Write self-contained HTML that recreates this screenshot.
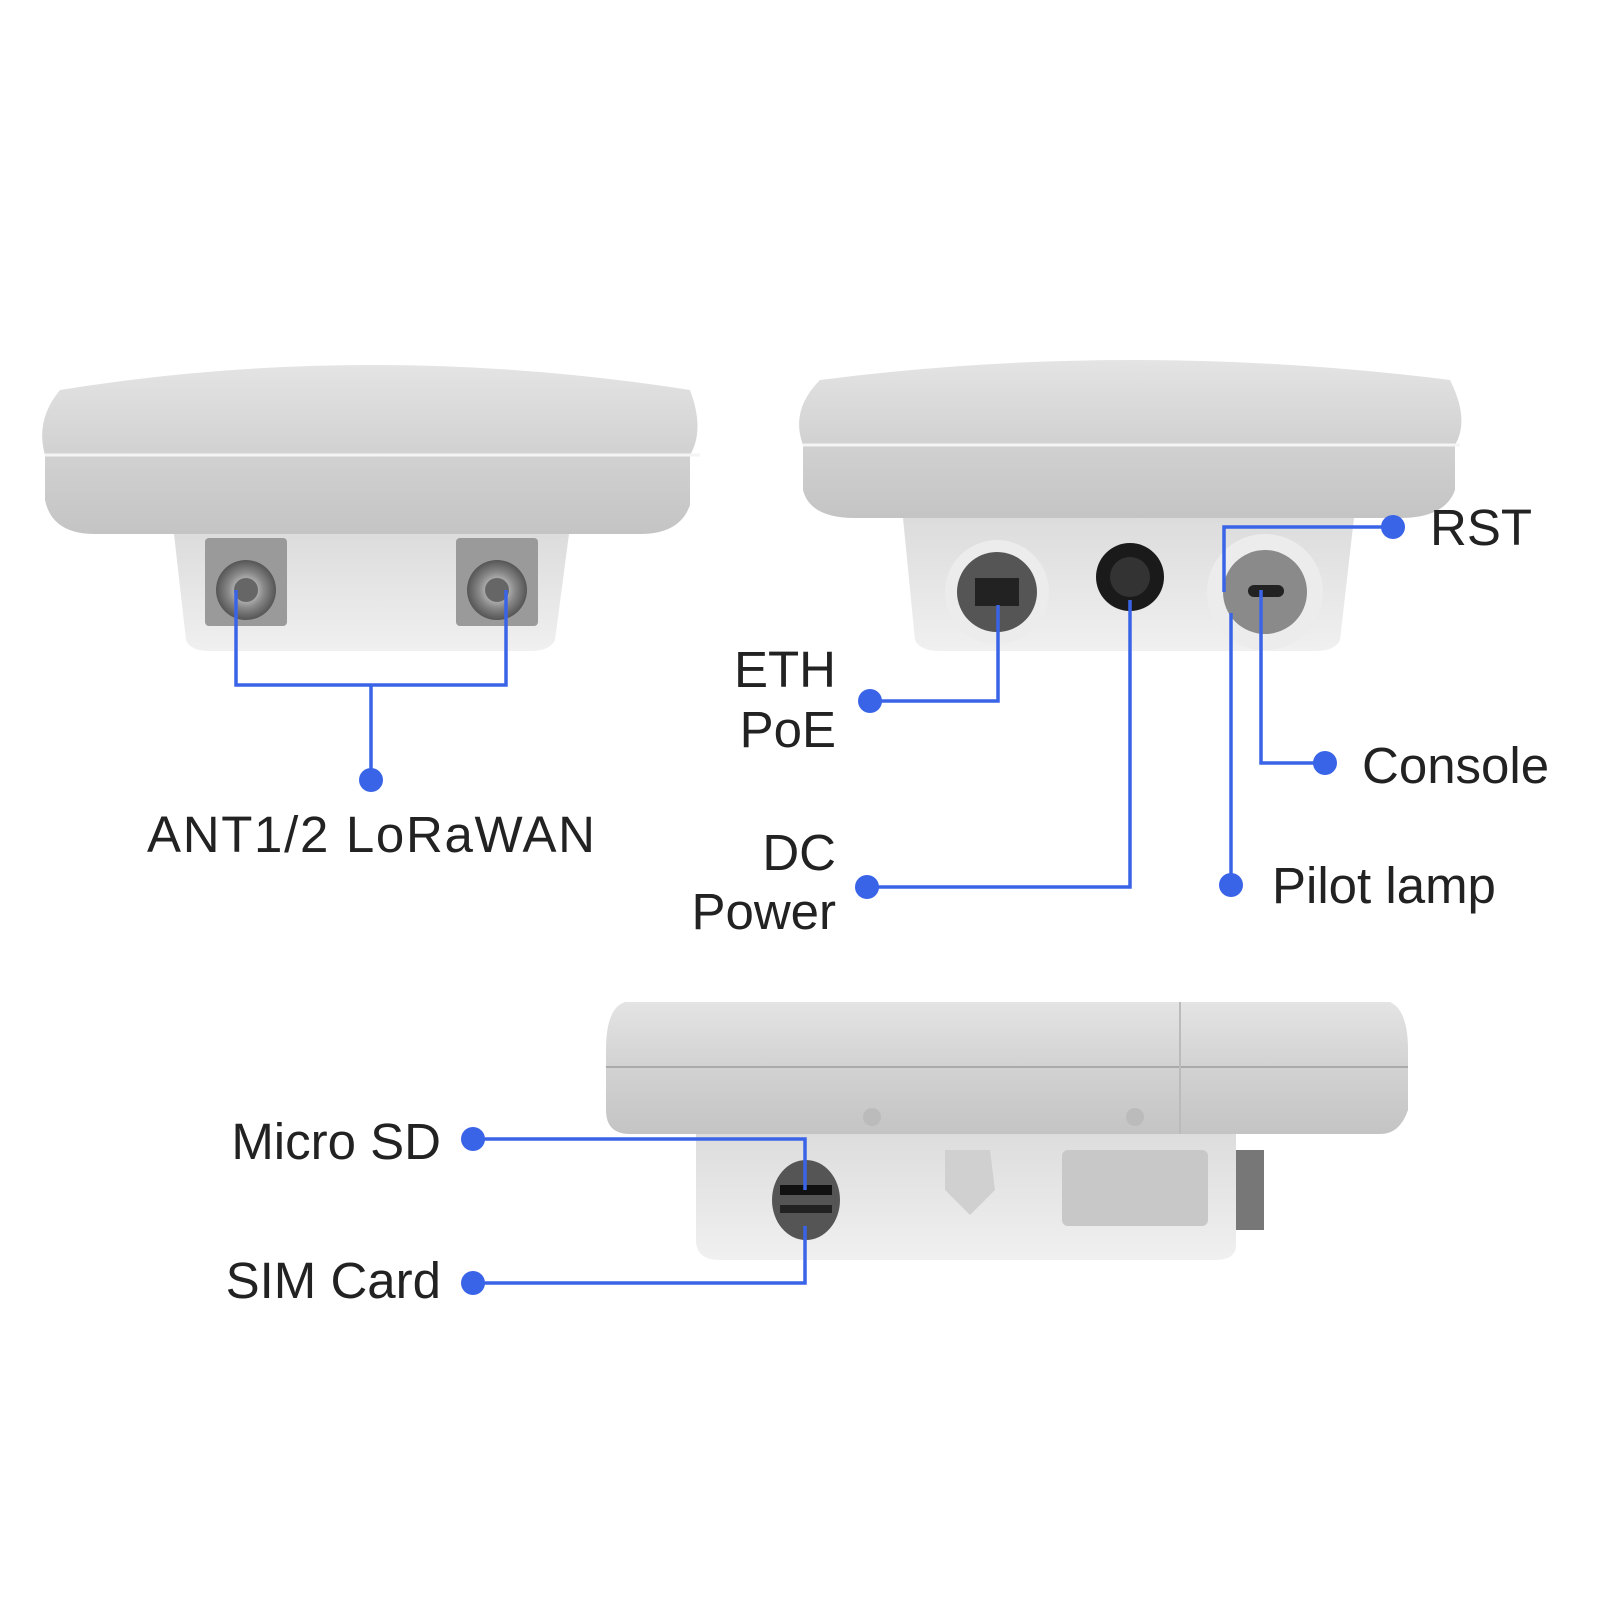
<!DOCTYPE html>
<html><head><meta charset="utf-8"><style>
html,body{margin:0;padding:0;background:#fff;}
svg{display:block}
text{font-family:"Liberation Sans",sans-serif;font-size:51px;fill:#222;}
</style></head><body>
<svg width="1600" height="1600" viewBox="0 0 1600 1600" xmlns="http://www.w3.org/2000/svg">
<defs>
<linearGradient id="top" x1="0" y1="0" x2="0" y2="1">
<stop offset="0" stop-color="#e4e4e4"/><stop offset="0.5" stop-color="#d2d2d2"/><stop offset="1" stop-color="#c4c4c4"/></linearGradient>
<linearGradient id="low" x1="0" y1="0" x2="0" y2="1">
<stop offset="0" stop-color="#dcdcdc"/><stop offset="1" stop-color="#f0f0f0"/></linearGradient>
<radialGradient id="met"><stop offset="0" stop-color="#eee"/><stop offset="0.6" stop-color="#888"/><stop offset="1" stop-color="#555"/></radialGradient>
</defs>

<!-- Left device -->
<path d="M174 534 L569 534 L555 640 Q550 651 530 651 L210 651 Q190 651 186 640 Z" fill="url(#low)"/>
<path d="M60 390 Q370 340 690 390 Q705 430 690 455 L690 505 Q680 534 640 534 L95 534 Q52 534 45 500 L45 455 Q35 420 60 390 Z" fill="url(#top)"/>
<line x1="45" y1="455" x2="700" y2="455" stroke="#f4f4f4" stroke-width="3"/>
<rect x="205" y="538" width="82" height="88" fill="#9a9a9a" rx="4"/>
<circle cx="246" cy="590" r="30" fill="url(#met)"/><circle cx="246" cy="590" r="12" fill="#666"/>
<rect x="456" y="538" width="82" height="88" fill="#9a9a9a" rx="4"/>
<circle cx="497" cy="590" r="30" fill="url(#met)"/><circle cx="497" cy="590" r="12" fill="#666"/>

<!-- Right device -->
<path d="M903 518 L1354 518 L1340 640 Q1335 651 1315 651 L940 651 Q920 651 915 640 Z" fill="url(#low)"/>
<path d="M820 380 Q1130 340 1450 380 Q1470 420 1455 445 L1455 490 Q1445 518 1400 518 L855 518 Q810 518 803 490 L803 445 Q790 410 820 380 Z" fill="url(#top)"/>
<line x1="803" y1="445" x2="1460" y2="445" stroke="#f4f4f4" stroke-width="3"/>
<circle cx="997" cy="592" r="52" fill="#ececec"/>
<circle cx="997" cy="592" r="40" fill="#555"/>
<rect x="975" y="578" width="44" height="28" fill="#222"/>
<circle cx="1130" cy="577" r="34" fill="#1a1a1a"/>
<circle cx="1130" cy="577" r="20" fill="#333"/>
<circle cx="1265" cy="592" r="58" fill="#ececec"/>
<circle cx="1265" cy="592" r="42" fill="#8a8a8a"/>
<rect x="1248" y="585" width="36" height="12" rx="6" fill="#222"/>

<!-- Bottom device -->
<path d="M696 1129 L1236 1129 L1236 1245 Q1236 1260 1215 1260 L720 1260 Q696 1260 696 1240 Z" fill="url(#low)"/>
<path d="M625 1002 L1390 1002 Q1408 1010 1408 1050 L1408 1110 Q1400 1134 1380 1134 L630 1134 Q606 1134 606 1110 L606 1050 Q606 1008 625 1002 Z" fill="url(#top)"/>
<line x1="606" y1="1067" x2="1408" y2="1067" stroke="#aaa" stroke-width="2"/>
<line x1="1180" y1="1002" x2="1180" y2="1134" stroke="#bbb" stroke-width="2"/>
<circle cx="872" cy="1117" r="9" fill="#bbb"/><circle cx="1135" cy="1117" r="9" fill="#bbb"/>
<ellipse cx="806" cy="1200" rx="34" ry="40" fill="#555"/>
<rect x="780" y="1185" width="52" height="10" fill="#111"/><rect x="780" y="1205" width="52" height="8" fill="#222"/>
<path d="M945 1150 L990 1150 L995 1190 L970 1215 L945 1190 Z" fill="#d0d0d0"/>
<rect x="1062" y="1150" width="146" height="76" rx="6" fill="#c8c8c8"/>
<rect x="1236" y="1150" width="28" height="80" fill="#777"/>

<!-- Connectors -->
<g stroke="#3a64e8" stroke-width="3.5" fill="none">
<polyline points="236,590 236,685 506,685 506,590"/>
<line x1="371" y1="685" x2="371" y2="780"/>
<polyline points="870,701 998,701 998,605"/>
<polyline points="867,887 1130,887 1130,600"/>
<polyline points="1393,527 1224,527 1224,592"/>
<polyline points="1325,763 1261,763 1261,590"/>
<polyline points="1231,885 1231,613"/>
<polyline points="473,1139 805,1139 805,1190"/>
<polyline points="473,1283 805,1283 805,1226"/>
</g>
<g fill="#3a64e8">
<circle cx="371" cy="780" r="12"/>
<circle cx="870" cy="701" r="12"/>
<circle cx="867" cy="887" r="12"/>
<circle cx="1393" cy="527" r="12"/>
<circle cx="1325" cy="763" r="12"/>
<circle cx="1231" cy="885" r="12"/>
<circle cx="473" cy="1139" r="12"/>
<circle cx="473" cy="1283" r="12"/>
</g>

<text x="147" y="852" textLength="448" lengthAdjust="spacing">ANT1/2  LoRaWAN</text>
<text x="836" y="687" text-anchor="end">ETH</text>
<text x="836" y="747" text-anchor="end">PoE</text>
<text x="836" y="870" text-anchor="end">DC</text>
<text x="836" y="929" text-anchor="end">Power</text>
<text x="1430" y="545">RST</text>
<text x="1362" y="783">Console</text>
<text x="1272" y="903">Pilot lamp</text>
<text x="441" y="1159" text-anchor="end">Micro SD</text>
<text x="441" y="1298" text-anchor="end">SIM Card</text>
</svg>
</body></html>
